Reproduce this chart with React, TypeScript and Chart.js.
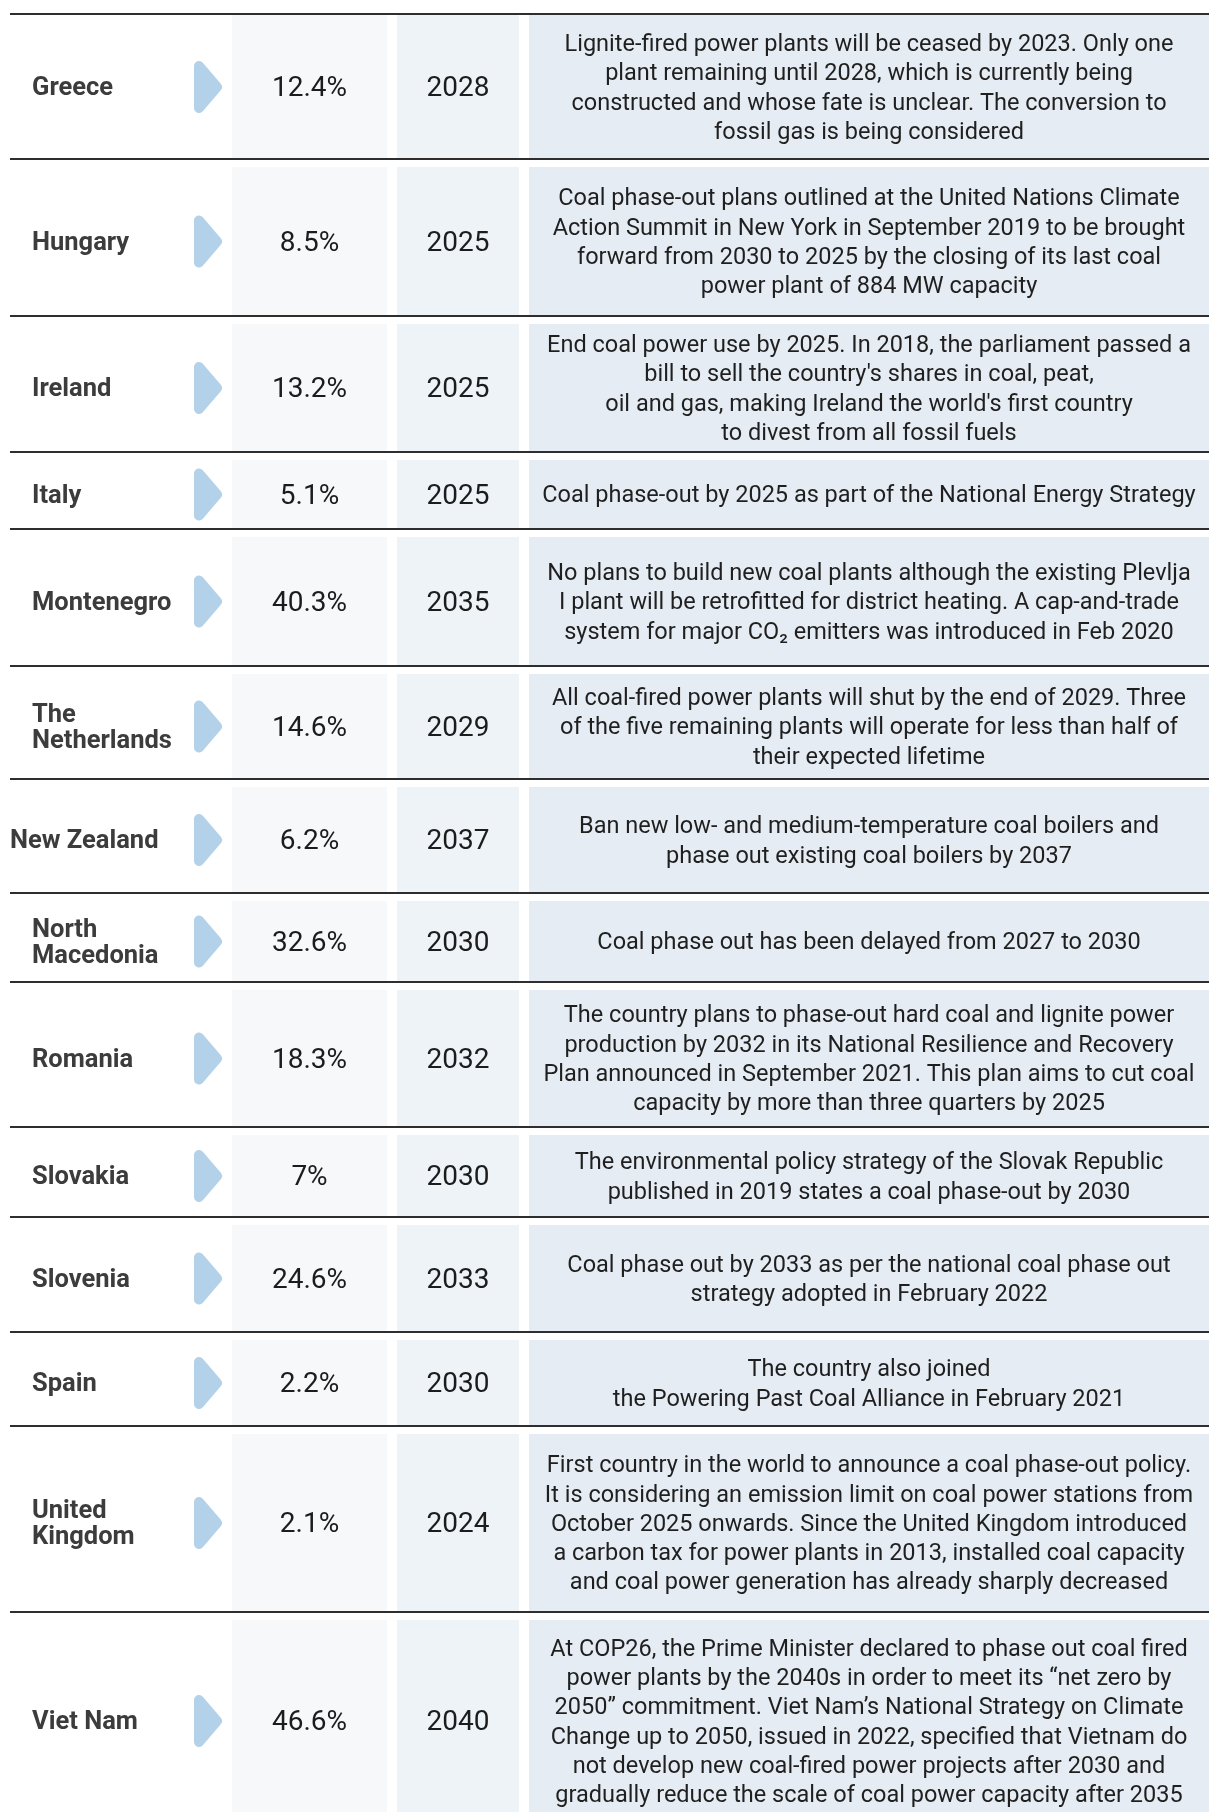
import React, { useEffect, useRef } from "react";
import { Chart, registerables } from "chart.js";

Chart.register(...registerables);

// ---------- data ----------
const COUNTRY_LINES: string[][] = [
  ["Greece"],
  ["Hungary"],
  ["Ireland"],
  ["Italy"],
  ["Montenegro"],
  ["The", "Netherlands"],
  ["New Zealand"],
  ["North", "Macedonia"],
  ["Romania"],
  ["Slovakia"],
  ["Slovenia"],
  ["Spain"],
  ["United", "Kingdom"],
  ["Viet Nam"],
];

const COAL_SHARE: number[] = [12.4, 8.5, 13.2, 5.1, 40.3, 14.6, 6.2, 32.6, 18.3, 7, 24.6, 2.2, 2.1, 46.6];

const PHASE_OUT_YEAR: number[] = [2028, 2025, 2025, 2025, 2035, 2029, 2037, 2030, 2032, 2030, 2033, 2030, 2024, 2040];

const DESCRIPTIONS: string[][] = [
  [
    "Lignite-fired power plants will be ceased by 2023. Only one",
    "plant remaining until 2028, which is currently being",
    "constructed and whose fate is unclear. The conversion to",
    "fossil gas is being considered",
  ],
  [
    "Coal phase-out plans outlined at the United Nations Climate",
    "Action Summit in New York in September 2019 to be brought",
    "forward from 2030 to 2025 by the closing of its last coal",
    "power plant of 884 MW capacity",
  ],
  [
    "End coal power use by 2025. In 2018, the parliament passed a",
    "bill to sell the country's shares in coal, peat,",
    "oil and gas, making Ireland the world's first country",
    "to divest from all fossil fuels",
  ],
  ["Coal phase-out by 2025 as part of the National Energy Strategy"],
  [
    "No plans to build new coal plants although the existing Plevlja",
    "I plant will be retrofitted for district heating. A cap-and-trade",
    "system for major CO\u2082 emitters was introduced in Feb 2020",
  ],
  [
    "All coal-fired power plants will shut by the end of 2029. Three",
    "of the five remaining plants will operate for less than half of",
    "their expected lifetime",
  ],
  [
    "Ban new low- and medium-temperature coal boilers and",
    "phase out existing coal boilers by 2037",
  ],
  ["Coal phase out has been delayed from 2027 to 2030"],
  [
    "The country plans to phase-out hard coal and lignite power",
    "production by 2032 in its National Resilience and Recovery",
    "Plan announced in September 2021. This plan aims to cut coal",
    "capacity by more than three quarters by 2025",
  ],
  [
    "The environmental policy strategy of the Slovak Republic",
    "published in 2019 states a coal phase-out by 2030",
  ],
  [
    "Coal phase out by 2033 as per the national coal phase out",
    "strategy adopted in February 2022",
  ],
  [
    "The country also joined",
    "the Powering Past Coal Alliance in February 2021",
  ],
  [
    "First country in the world to announce a coal phase-out policy.",
    "It is considering an emission limit on coal power stations from",
    "October 2025 onwards. Since the United Kingdom introduced",
    "a carbon tax for power plants in 2013, installed coal capacity",
    "and coal power generation has already sharply decreased",
  ],
  [
    "At COP26, the Prime Minister declared to phase out coal fired",
    "power plants by the 2040s in order to meet its \u201cnet zero by",
    "2050\u201d commitment. Viet Nam\u2019s National Strategy on Climate",
    "Change up to 2050, issued in 2022, specified that Vietnam do",
    "not develop new coal-fired power projects after 2030 and",
    "gradually reduce the scale of coal power capacity after 2035",
  ],
];

// ---------- layout (scale units) ----------
const WIDTH = 1209;
const HEIGHT = 1812;
const ROW_RULES = [14, 159, 316, 452, 529, 666, 779, 893, 982, 1127, 1217, 1332, 1426, 1612, 1822];
const COLS = {
  ruleX0: 10,
  nameX: 32,
  nameXWide: 10,
  arrowX0: 194,
  arrowX1: 222,
  pctX0: 232,
  pctX1: 387,
  yearX0: 397,
  yearX1: 519,
  descX0: 529,
  descX1: 1209,
};
const WIDE_NAMES = ["New Zealand"];

const STYLE = {
  pctFill: "#f6f8fa",
  yearFill: "#eef3f7",
  descFill: "#e5ecf3",
  arrow: "#b3d1e8",
  rule: "#2e2e2e",
  nameColor: "#3c3c3c",
  numColor: "#1c1c1c",
  descColor: "#1f1f1f",
  nameFont: "bold 25.5px Roboto",
  numFont: "28px Roboto",
  descFont: "23.5px Roboto",
  descLineH: 29.3,
  nameLineH: 26,
  textDy: 2,
};

const tablePlugin = {
  id: "phaseOutTable",
  afterDraw(chart: any) {
    const { ctx } = chart;
    const xs = chart.scales.x;
    const ys = chart.scales.y;
    const px = (v: number) => xs.getPixelForValue(v);
    const py = (v: number) => ys.getPixelForValue(v);

    ctx.save();
    ctx.fillStyle = "#ffffff";
    ctx.fillRect(px(0), py(0), px(WIDTH) - px(0), py(HEIGHT) - py(0));

    COUNTRY_LINES.forEach((nameLines, i) => {
      const top = ROW_RULES[i];
      const bottom = ROW_RULES[i + 1];
      const cellTop = top + (i === 0 ? 1 : 8);
      const cy = (cellTop + bottom) / 2;
      const ty = cy + STYLE.textDy;
      const yT = py(cellTop);
      const yB = py(bottom);

      // cells
      ctx.fillStyle = STYLE.pctFill;
      ctx.fillRect(px(COLS.pctX0), yT, px(COLS.pctX1) - px(COLS.pctX0), yB - yT);
      ctx.fillStyle = STYLE.yearFill;
      ctx.fillRect(px(COLS.yearX0), yT, px(COLS.yearX1) - px(COLS.yearX0), yB - yT);
      ctx.fillStyle = STYLE.descFill;
      ctx.fillRect(px(COLS.descX0), yT, px(COLS.descX1) - px(COLS.descX0), yB - yT);

      // arrow (rounded triangle)
      const inset = 5;
      const ax0 = px(COLS.arrowX0 + inset);
      const ax1 = px(COLS.arrowX1 - inset);
      const half = 26 - inset;
      ctx.beginPath();
      ctx.moveTo(ax0, py(cy - half));
      ctx.lineTo(ax1, py(cy));
      ctx.lineTo(ax0, py(cy + half));
      ctx.closePath();
      ctx.fillStyle = STYLE.arrow;
      ctx.strokeStyle = STYLE.arrow;
      ctx.lineWidth = inset * 2;
      ctx.lineJoin = "round";
      ctx.fill();
      ctx.stroke();

      // country name
      ctx.fillStyle = STYLE.nameColor;
      ctx.font = STYLE.nameFont;
      ctx.textAlign = "left";
      ctx.textBaseline = "middle";
      const nx = WIDE_NAMES.includes(nameLines.join(" ")) ? COLS.nameXWide : COLS.nameX;
      nameLines.forEach((ln, k) => {
        const ly = ty + (k - (nameLines.length - 1) / 2) * STYLE.nameLineH;
        ctx.fillText(ln, px(nx), py(ly));
      });

      // numbers
      ctx.fillStyle = STYLE.numColor;
      ctx.font = STYLE.numFont;
      ctx.textAlign = "center";
      ctx.fillText(`${COAL_SHARE[i]}%`, px((COLS.pctX0 + COLS.pctX1) / 2), py(ty));
      ctx.fillText(String(PHASE_OUT_YEAR[i]), px((COLS.yearX0 + COLS.yearX1) / 2), py(ty));

      // description
      ctx.fillStyle = STYLE.descColor;
      ctx.font = STYLE.descFont;
      const lines = DESCRIPTIONS[i];
      lines.forEach((ln, k) => {
        const ly = ty + (k - (lines.length - 1) / 2) * STYLE.descLineH;
        ctx.fillText(ln, px((COLS.descX0 + COLS.descX1) / 2), py(ly));
      });
    });

    // horizontal rules
    ctx.strokeStyle = STYLE.rule;
    ctx.lineWidth = 2;
    ROW_RULES.forEach((r) => {
      ctx.beginPath();
      ctx.moveTo(px(COLS.ruleX0), py(r));
      ctx.lineTo(px(WIDTH), py(r));
      ctx.stroke();
    });
    ctx.restore();
  },
};

export default function App() {
  const ref = useRef<HTMLCanvasElement | null>(null);

  useEffect(() => {
    document.body.style.margin = "0";
    document.body.style.overflow = "hidden";
    const canvas = ref.current;
    if (!canvas) return;
    const chart = new Chart(canvas, {
      type: "scatter",
      data: { datasets: [{ data: [], showLine: false }] },
      options: {
        animation: false,
        responsive: false,
        devicePixelRatio: 1,
        layout: { padding: 0 },
        plugins: { legend: { display: false }, tooltip: { enabled: false } },
        scales: {
          x: { type: "linear", min: 0, max: WIDTH, display: false },
          y: { type: "linear", min: 0, max: HEIGHT, reverse: true, display: false },
        },
      },
      plugins: [tablePlugin],
    });
    return () => chart.destroy();
  }, []);

  return (
    <canvas
      ref={ref}
      width={WIDTH}
      height={HEIGHT}
      style={{ display: "block", width: WIDTH, height: HEIGHT }}
    />
  );
}
